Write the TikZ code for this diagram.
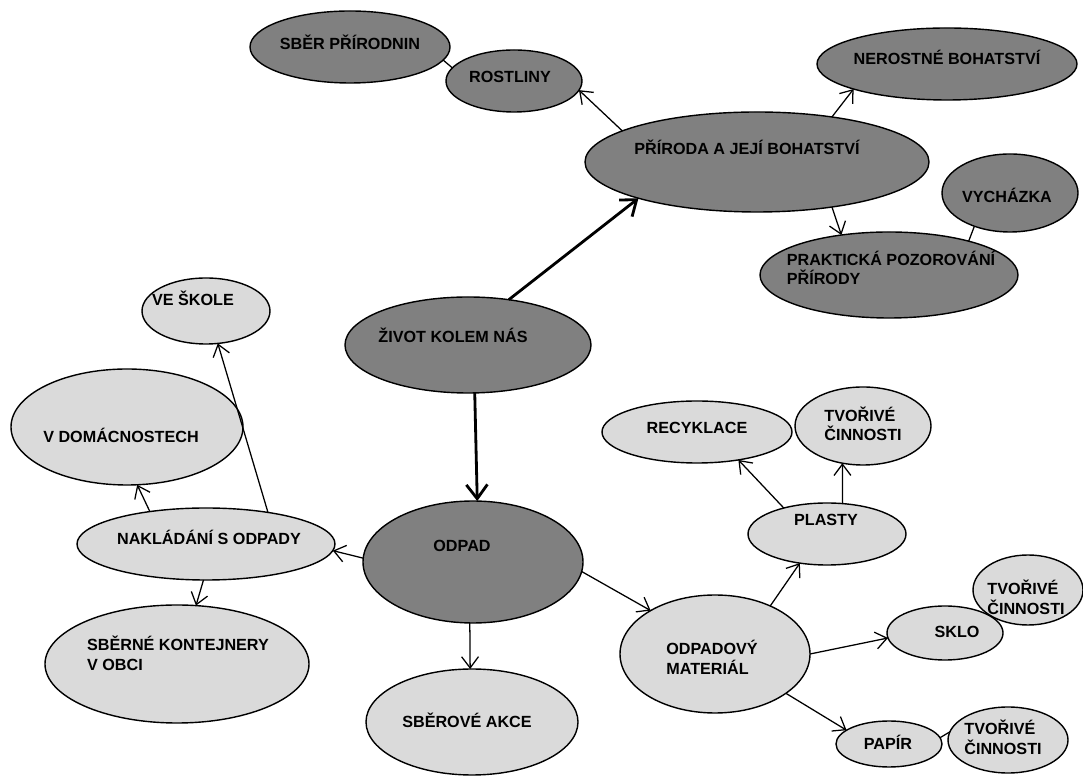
\documentclass[tikz,border=0pt]{standalone}
\usepackage{fontspec}
\setmainfont{Liberation Sans}
\usetikzlibrary{shapes.geometric,arrows.meta}
\definecolor{tmava}{RGB}{128,128,128}
\definecolor{svetla}{RGB}{218,218,218}

\begin{document}
\begin{tikzpicture}[scale=1,
		bubble/.style={ellipse, draw, line width=1pt, inner sep=0pt, outer sep=0pt},
		dark/.style={bubble, fill=tmava},
		light/.style={bubble, fill=svetla},
		every label/.style={font=\fontsize{11.5}{14}\selectfont\bfseries, align=left, inner sep=0pt},
		arr/.style={line width=0.9pt, -{Straight Barb[length=8pt,width=12pt]}},
		heavy/.style={line width=2pt, -{Straight Barb[length=10pt,width=15pt]}},
		link/.style={line width=0.9pt}]%,background rectangle/.style={fill=white}, show background rectangle]
			\useasboundingbox (0,0) rectangle (27.075,19.4);
			% priroda
			\node[dark, minimum width=5cm, minimum height=1.8cm, label={[name=sber-t, yshift=0.125cm]center:SBĚR PŘÍRODNIN}] (sber) at (8.75,18.225) {};
			\node[dark, minimum width=3.4cm, minimum height=1.55cm, label={[name=rost-t, xshift=-0.1cm, yshift=0.1cm]center:ROSTLINY}] (rost) at (12.85,17.375) {};
			\node[dark, minimum width=6.5cm, minimum height=1.8cm, label={[name=nerost-t, yshift=0.175cm]center:NEROSTNÉ BOHATSTVÍ}] (nerost) at (23.675,17.8) {};
			\node[dark, minimum width=8.6cm, minimum height=2.5cm, label={[name=prir-t, xshift=-0.25cm, yshift=0.375cm]center:PŘÍRODA A JEJÍ BOHATSTVÍ}] (prir) at (18.925,15.35) {};
			\node[dark, minimum width=3.4cm, minimum height=1.95cm, label={[name=vych-t, xshift=-0.075cm, yshift=-0.05cm]center:VYCHÁZKA}] (vych) at (25.25,14.575) {};
			\node[dark, minimum width=6.45cm, minimum height=2.15cm, label={[name=prakt-t, xshift=0.05cm, yshift=0.175cm]center:PRAKTICKÁ POZOROVÁNÍ\\PŘÍRODY}] (prakt) at (22.225,12.525) {};
			\node[dark, minimum width=6.15cm, minimum height=2.4cm, label={[name=zivot-t, xshift=-0.375cm, yshift=0.25cm]center:ŽIVOT KOLEM NÁS}] (zivot) at (11.7,10.775) {};
			\node[dark, minimum width=5.5cm, minimum height=3.05cm, label={[name=odpad-t, xshift=-0.275cm, yshift=0.4cm]center:ODPAD}] (odpad) at (11.825,5.35) {};
			% odpady
			\node[light, minimum width=3.2cm, minimum height=1.65cm, label={[name=skola-t, xshift=-0.325cm, yshift=0.325cm]center:VE ŠKOLE}] (skola) at (5.15,11.625) {};
			\node[light, minimum width=5.8cm, minimum height=2.9cm, label={[name=domac-t, xshift=-0.15cm, yshift=-0.2cm]center:V DOMÁCNOSTECH}] (domac) at (3.175,8.725) {};
			\node[light, minimum width=6.45cm, minimum height=1.8cm, label={[name=naklad-t, xshift=0.075cm, yshift=0.175cm]center:NAKLÁDÁNÍ S ODPADY}] (naklad) at (5.15,5.8) {};
			\node[light, minimum width=6.6cm, minimum height=2.95cm, label={[name=kontej-t, xshift=0.025cm, yshift=0.275cm]center:SBĚRNÉ KONTEJNERY\\V OBCI}] (kontej) at (4.425,2.8) {};
			\node[light, minimum width=5.3cm, minimum height=2.65cm, label={[name=sbakce-t, xshift=-0.125cm, yshift=0.05cm]center:SBĚROVÉ AKCE}] (sbakce) at (11.8,1.35) {};
			\node[light, minimum width=4.75cm, minimum height=1.55cm, label={[name=recyk-t, yshift=0.1cm]center:RECYKLACE}] (recyk) at (17.425,8.6) {};
			\node[light, minimum width=3.4cm, minimum height=1.95cm, label={[name=tvorA-t, yshift=0.05cm]center:TVOŘIVÉ\\ČINNOSTI}] (tvorA) at (21.575,8.75) {};
			\node[light, minimum width=3.95cm, minimum height=1.55cm, label={[name=plasty-t, xshift=-0.025cm, yshift=0.35cm]center:PLASTY}] (plasty) at (20.675,6.05) {};
			\node[light, minimum width=4.75cm, minimum height=2.95cm, label={[name=mater-t, xshift=-0.075cm, yshift=-0.075cm]center:ODPADOVÝ\\MATERIÁL}] (mater) at (17.875,3.05) {};
			\node[light, minimum width=2.9cm, minimum height=1.35cm, label={[name=sklo-t, xshift=0.3cm, yshift=0.025cm]center:SKLO}] (sklo) at (23.625,3.575) {};
			\node[light, minimum width=2.75cm, minimum height=1.75cm, label={[name=tvorB-t, xshift=-0.05cm, yshift=-0.175cm]center:TVOŘIVÉ\\ČINNOSTI}] (tvorB) at (25.7,4.65) {};
			\node[light, minimum width=2.65cm, minimum height=1.15cm, label={[name=papir-t, xshift=-0.025cm, yshift=0.05cm]center:PAPÍR}] (papir) at (22.225,0.8) {};
			\node[light, minimum width=3cm, minimum height=1.65cm, label={[name=tvorC-t, xshift=-0.125cm, yshift=0.075cm]center:TVOŘIVÉ\\ČINNOSTI}] (tvorC) at (25.2,0.9) {};
			% spojnice
			\draw[heavy] (zivot.48) -- (prir.197);
			\draw[heavy] (zivot.278) -- (odpad.86);
			\draw[arr] (prir.167) -- (rost.352);
			\draw[link] (rost.168) -- (sber.352);
			\draw[arr] (prir.31) -- (nerost.195);
			\draw[arr] (prir.329) -- (prakt.140);
			\draw[link] (vych.223) -- (prakt.23);
			\draw[arr] (odpad.178) -- (naklad.357);
			\draw[arr] (naklad.150) -- (domac.280);
			\draw[arr] (naklad.27) -- (skola.290);
			\draw[arr] (naklad.266) -- (kontej.72);
			\draw[arr] (odpad.267) -- (sbakce.92);
			\draw[arr] (odpad.355) -- (mater.146);
			\draw[arr] (mater.41) -- (plasty.227);
			\draw[arr] (plasty.149) -- (recyk.326);
			\draw[arr] (plasty.63) -- (tvorA.241);
			\draw[arr] (mater.0) -- (sklo.185);
			\draw[arr] (mater.331) -- (papir.162);
			\draw[link] (papir.7) -- (tvorC.172);
		\end{tikzpicture}
\end{document}
